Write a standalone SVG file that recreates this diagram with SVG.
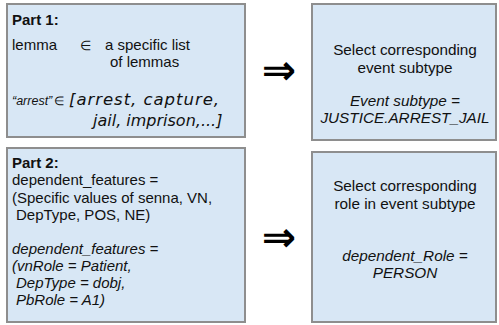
<svg xmlns="http://www.w3.org/2000/svg" width="499" height="325" viewBox="0 0 499 325">
<style>
.box{fill:#d8e7f5;stroke:#8e8e8e;stroke-width:2}
.t{font-family:"Liberation Sans",Arial,sans-serif;font-size:15px;fill:#111}
.b{font-weight:bold}
.i{font-style:italic}
.v{font-family:"DejaVu Sans",Verdana,sans-serif;font-style:italic;font-size:16px;fill:#111}
.c{text-anchor:middle;font-size:15.3px}
.arr{font-family:"DejaVu Sans",sans-serif;font-weight:bold;font-size:41px;fill:#000;text-anchor:middle}
</style>
<rect width="499" height="325" fill="#fff"/>
<g id="part1">
<rect class="box" x="7" y="4" width="238" height="133"/>
<text class="t b" x="12" y="25">Part 1:</text>
<text class="t" x="12" y="50">lemma</text>
<text class="t" x="80" y="50" style="font-size:13px">∈</text>
<text class="t" x="105" y="50">a specific list</text>
<text class="t" x="110" y="67">of lemmas</text>
<text class="t i" x="12" y="105" style="font-size:12.5px">“arrest”</text>
<text class="t" x="54" y="105" style="font-size:12px">∈</text>
<text class="v" x="69" y="105" style="font-size:16.5px" textLength="150" lengthAdjust="spacing">[arrest, capture,</text>
<text class="v" x="93" y="126">jail, imprison,...]</text>
</g>
<g id="part2">
<rect class="box" x="7" y="148" width="238" height="174"/>
<text class="t b" x="12" y="168">Part 2:</text>
<text class="t" x="12" y="185">dependent_features =</text>
<text class="t" x="12" y="203">(Specific values of senna, VN,</text>
<text class="t" x="16" y="220">DepType, POS, NE)</text>
<text class="t i" x="12" y="254">dependent_features =</text>
<text class="t i" x="12" y="271">(vnRole = Patient,</text>
<text class="t i" x="16" y="288">DepType = dobj,</text>
<text class="t i" x="16" y="305">PbRole = A1)</text>
</g>
<g id="event">
<rect class="box" x="312" y="4" width="184" height="136"/>
<text class="t c" x="405" y="55">Select corresponding</text>
<text class="t c" x="405" y="73">event subtype</text>
<text class="t c i" x="405" y="106">Event subtype =</text>
<text class="t c i" x="405" y="123">JUSTICE.ARREST_JAIL</text>
</g>
<g id="role">
<rect class="box" x="312" y="152" width="184" height="170"/>
<text class="t c" x="405" y="191">Select corresponding</text>
<text class="t c" x="405" y="209">role in event subtype</text>
<text class="t c i" x="405" y="261">dependent_Role =</text>
<text class="t c i" x="405" y="278">PERSON</text>
</g>
<g id="connectors">
<text class="arr" x="279" y="84">⇒</text>
<text class="arr" x="279" y="251">⇒</text>
</g>
</svg>
